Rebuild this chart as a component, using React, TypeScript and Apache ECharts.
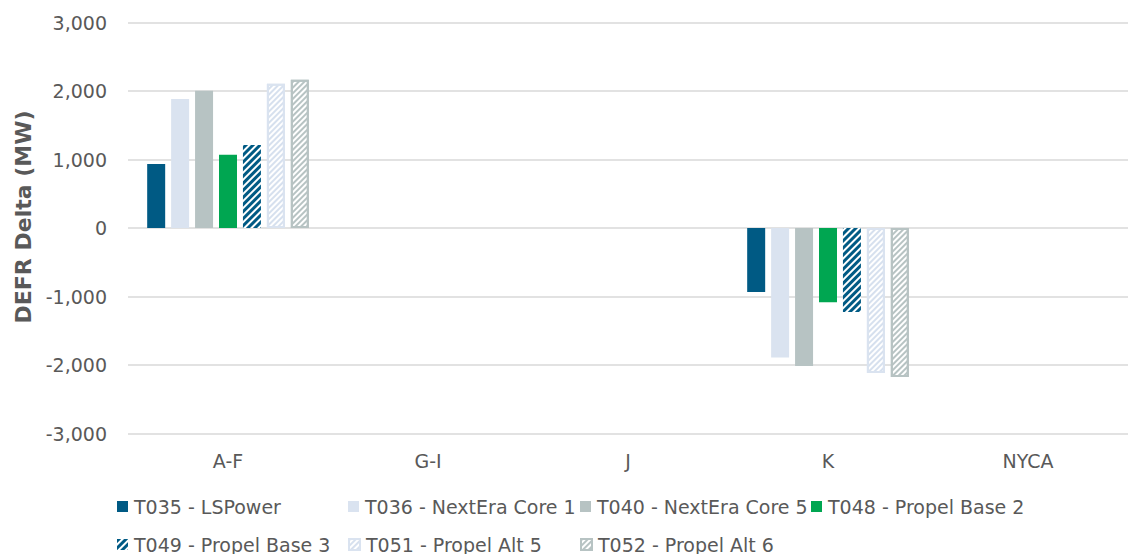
import React, { useEffect, useRef } from "react";
import * as echarts from "echarts";

const categories = ["A-F", "G-I", "J", "K", "NYCA"];
const seriesNames = [
  "T035 - LSPower",
  "T036 - NextEra Core 1",
  "T040 - NextEra Core 5",
  "T048 - Propel Base 2",
  "T049 - Propel Base 3",
  "T051 - Propel Alt 5",
  "T052 - Propel Alt 6",
];
const t035 = [935, 0, 0, -935, 0];
const t036 = [1885, 0, 0, -1890, 0];
const t040 = [2005, 0, 0, -2015, 0];
const t048 = [1070, 0, 0, -1085, 0];
const t049 = [1210, 0, 0, -1225, 0];
const t051 = [2105, 0, 0, -2115, 0];
const t052 = [2165, 0, 0, -2175, 0];
const yTicks = [-3000, -2000, -1000, 0, 1000, 2000, 3000];

const seriesValues = [t035, t036, t040, t048, t049, t051, t052];

const FONT = "DejaVu Sans";
const TXT = "#595959";

function decal(color: string, on: number, off: number) {
  return {
    symbol: "rect",
    symbolSize: 1,
    dashArrayX: [1, 0],
    dashArrayY: [on, off],
    rotation: -Math.PI / 4,
    color,
  };
}

const styles: any[] = [
  { color: "#005a84" },
  { color: "#dae3f0" },
  { color: "#b7c3c3" },
  { color: "#00a651" },
  { color: "#ffffff", decal: decal("#005a84", 3, 2) },
  { color: "#ffffff", decal: decal("#d6e0ee", 2, 2), borderColor: "#dae3f0", borderWidth: 2 },
  { color: "#ffffff", decal: decal("#b7c3c3", 2, 2), borderColor: "#b7c3c3", borderWidth: 2 },
];

const legendPos = [
  [117, 497],
  [348, 497],
  [580, 497],
  [811, 497],
  [117, 535],
  [348, 535],
  [580, 535],
];

export default function App() {
  const ref = useRef<HTMLDivElement>(null);
  useEffect(() => {
    if (!ref.current) return;
    const chart = echarts.init(ref.current, null, { renderer: "svg" });
    const fmt = (v: number) => {
      const s = Math.abs(v).toLocaleString("en-US");
      return v < 0 ? "-" + s : s;
    };
    chart.setOption({
      animation: false,
      backgroundColor: "#ffffff",
      grid: { left: 128, top: 22.5, width: 1005, height: 411 },
      legend: seriesNames.map((n, i) => ({
        data: [n],
        left: legendPos[i][0],
        top: legendPos[i][1],
        padding: 0,
        itemWidth: 11,
        itemHeight: 11,
        itemGap: 0,
        icon: "rect",
        selectedMode: false,
        textStyle: { fontFamily: FONT, fontSize: 19, color: TXT, padding: [0, 0, 0, 1] },
      })),
      xAxis: {
        type: "category",
        data: categories,
        position: "bottom",
        axisLine: { show: false },
        axisTick: { show: false },
        axisLabel: { margin: 18, fontFamily: FONT, fontSize: 19, color: TXT },
      },
      yAxis: {
        type: "value",
        min: yTicks[0],
        max: yTicks[yTicks.length - 1],
        interval: 1000,
        axisLine: { show: false },
        axisTick: { show: false },
        splitLine: { lineStyle: { color: "#d9d9d9", width: 1.5 } },
        axisLabel: {
          margin: 21,
          fontFamily: FONT,
          fontSize: 19,
          color: TXT,
          formatter: fmt,
        },
      },
      graphic: [
        {
          type: "text",
          x: 23,
          y: 217,
          rotation: Math.PI / 2,
          style: {
            text: "DEFR Delta (MW)",
            fontFamily: FONT,
            fontWeight: "bold",
            fontSize: 22,
            fill: TXT,
            align: "center",
            verticalAlign: "middle",
          },
        },
      ],
      series: seriesNames.map((n, i) => ({
        name: n,
        type: "bar",
        // zero values are not drawn (no empty bordered stubs)
        data: seriesValues[i].map((v) => (v === 0 ? null : v)),
        barWidth: 18,
        barGap: "33%",
        itemStyle: styles[i],
      })),
    });
    return () => chart.dispose();
  }, []);
  return (
    <div
      ref={ref}
      style={{ position: "absolute", left: 0, top: 0, width: 1128, height: 554 }}
    />
  );
}
